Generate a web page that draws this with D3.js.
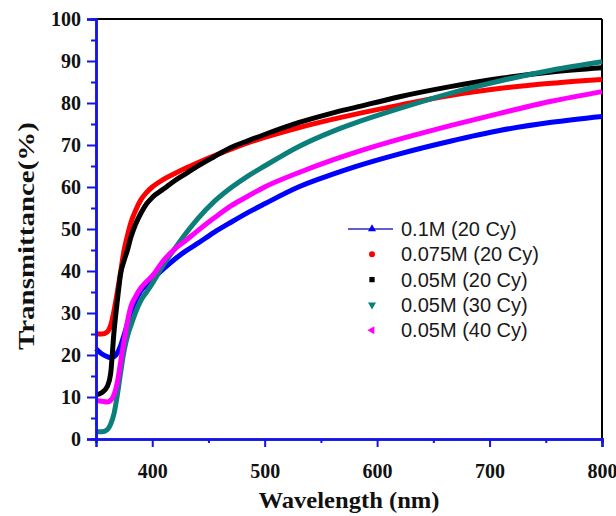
<!DOCTYPE html>
<html>
<head>
<meta charset="utf-8">
<script src="https://cdn.jsdelivr.net/npm/d3@7"></script>
<style>
  body { margin: 0; background: #fff; }
</style>
</head>
<body>
<div id="chart"></div>
<script>
// wavelengths (nm) shared by all series
var wavelength = [350,355,360,363,366,369,372,375,378,381,385,390,395,400,410,420,430,440,455,470,485,500,530,560,580,620,665,710,755,800];

// transmittance (%)
var t_01M_20   = [21.5,20.3,19.6,19.4,19.6,20.5,22.3,24.8,27.5,30,32.8,35.3,36.8,38,40.5,42.8,44.8,46.5,49.2,51.6,53.9,56,60,63,64.8,67.9,70.9,73.5,75.4,76.8];
var t_075M_20  = [25,25,25.5,27,30.5,35,40,45,48.5,51.5,54.3,57,58.7,60,61.8,63.2,64.5,65.7,67.4,69,70.5,71.8,74.1,76.1,77.3,79.5,81.8,83.5,84.7,85.6];
var t_005M_20  = [10.5,11,12.5,15.5,25.5,33,39.5,42.5,45,48,51,53.8,56,57.5,59.5,61.5,63.2,64.9,67.2,69.4,71,72.5,75.3,77.6,78.9,81.5,83.9,85.9,87.4,88.4];
var t_005M_30  = [1.7,1.7,2.2,3.5,6,10.5,16,21,24.5,27,30,33,35,37,41.5,45.3,49,52.3,56.5,59.8,62.6,65,69.6,73.2,75.2,78.7,82.3,85.3,87.8,89.8];
var t_005M_40  = [9.2,9,8.8,9.2,10.5,13.5,18.5,23.5,28,31.5,33.8,36,37.5,38.8,42.5,45.2,47.3,49.5,52.6,55.5,57.8,60,63.4,66.4,68.2,71.4,74.6,77.6,80.4,82.7];

var seriesNames  = ["0.1M (20 Cy)", "0.075M (20 Cy)", "0.05M (20 Cy)", "0.05M (30 Cy)", "0.05M (40 Cy)"];
var seriesValues = [t_01M_20, t_075M_20, t_005M_20, t_005M_30, t_005M_40];
var seriesColors = ["#0000ff", "#ff0000", "#000000", "#0b7f7a", "#ff00ff"];
var seriesSymbols = ["up", "circle", "square", "down", "left"];

var yTicks = [0,10,20,30,40,50,60,70,80,90,100];
var xTicks = [400,500,600,700,800];

var margin = {top: 19, right: 14, bottom: 77, left: 96},
    width = 616 - margin.left - margin.right,
    height = 516 - margin.top - margin.bottom;

var svg = d3.select("#chart")
  .append("svg")
    .attr("width", 616)
    .attr("height", 516)
  .append("g")
    .attr("transform", "translate(" + margin.left + "," + margin.top + ")");

var x = d3.scaleLinear().domain([350, 800]).range([0, width]);
var y = d3.scaleLinear().domain([0, 100]).range([height, 0]);

var axisBlue = "#1414e6";

// top and right frame
svg.append("line").attr("x1", 0).attr("x2", width).attr("y1", 0).attr("y2", 0)
  .attr("stroke", "#000").attr("stroke-width", 2);
svg.append("line").attr("x1", width).attr("x2", width).attr("y1", 0).attr("y2", height)
  .attr("stroke", "#000").attr("stroke-width", 2);

// curves
var line = d3.line()
  .x(function(d) { return x(d[0]); })
  .y(function(d) { return y(d[1]); })
  .curve(d3.curveMonotoneX);

seriesValues.forEach(function(vals, i) {
  svg.append("path")
    .datum(wavelength.map(function(w, j) { return [w, vals[j]]; }))
    .attr("fill", "none")
    .attr("stroke", seriesColors[i])
    .attr("stroke-width", 5)
    .attr("stroke-linejoin", "round")
    .attr("d", line);
});

// Y axis (minor, then major)
var yMinor = svg.append("g")
  .call(d3.axisLeft(y).tickValues(d3.range(5, 100, 10)).tickSize(5).tickFormat(""));
var yAxis = svg.append("g")
  .call(d3.axisLeft(y).tickValues(yTicks).tickSize(9).tickPadding(6));

// X axis
var xMinor = svg.append("g")
  .attr("transform", "translate(0," + height + ")")
  .call(d3.axisBottom(x).tickValues([350,450,550,650,750]).tickSize(4).tickFormat(""));
var xAxis = svg.append("g")
  .attr("transform", "translate(0," + height + ")")
  .call(d3.axisBottom(x).tickValues(xTicks).tickSize(8).tickPadding(17));

[yMinor, yAxis, xMinor, xAxis].forEach(function(g) {
  g.selectAll("path").attr("stroke", axisBlue).attr("stroke-width", 2.5);
  g.selectAll("line").attr("stroke", axisBlue).attr("stroke-width", 2);
  g.selectAll("text")
    .style("font-family", "'Liberation Serif', 'Times New Roman', serif")
    .style("font-weight", "bold")
    .style("font-size", "20px")
    .attr("fill", "#111");
});

// axis names
svg.append("text")
  .attr("text-anchor", "middle")
  .attr("x", 253)
  .attr("y", height + 69)
  .attr("textLength", 181)
  .attr("lengthAdjust", "spacingAndGlyphs")
  .style("font-family", "'Liberation Serif', 'Times New Roman', serif")
  .style("font-weight", "bold")
  .style("font-size", "23px")
  .attr("fill", "#111")
  .text("Wavelength (nm)");

svg.append("text")
  .attr("text-anchor", "middle")
  .attr("transform", "translate(-62," + (236 - margin.top) + ") rotate(-90)")
  .attr("textLength", 228)
  .attr("lengthAdjust", "spacingAndGlyphs")
  .style("font-family", "'Liberation Serif', 'Times New Roman', serif")
  .style("font-weight", "bold")
  .style("font-size", "24px")
  .attr("fill", "#111")
  .text("Transmittance(%)");

// legend
var symbolType = {
  up: d3.symbolTriangle, circle: d3.symbolCircle, square: d3.symbolSquare,
  down: d3.symbolTriangle, left: d3.symbolTriangle
};
var symbolRot = { up: 0, circle: 0, square: 0, down: 180, left: -90 };

var legend = svg.append("g").attr("transform", "translate(276," + (229 - margin.top) + ")");
seriesNames.forEach(function(name, i) {
  var row = legend.append("g").attr("transform", "translate(0," + (i * 25.3) + ")");
  if (i === 0) {
    row.append("line").attr("x1", -24).attr("x2", 21).attr("y1", 0).attr("y2", 0)
      .attr("stroke", "#2b2bb8").attr("stroke-width", 1.5);
  }
  row.append("path")
    .attr("d", d3.symbol().type(symbolType[seriesSymbols[i]]).size(28)())
    .attr("transform", "rotate(" + symbolRot[seriesSymbols[i]] + ")")
    .attr("fill", seriesColors[i]);
  row.append("text")
    .attr("x", 29)
    .attr("y", 7)
    .style("font-family", "'Liberation Sans', Arial, sans-serif")
    .style("font-size", "20px")
    .attr("fill", "#1a1a1a")
    .text(name);
});
</script>
</body>
</html>
